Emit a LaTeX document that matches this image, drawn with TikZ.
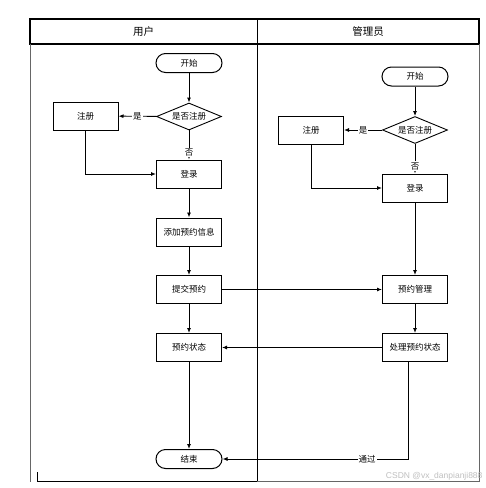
\documentclass[tikz,border=0pt]{standalone}
\usepackage{fontspec}
\setmainfont{Noto Sans CJK SC}
\newfontfamily\wmfont{Liberation Sans}
\usepackage{xcolor}
\usetikzlibrary{arrows.meta,positioning,calc,shapes.geometric}

\tikzset{
  proc/.style={draw, line width=1pt, minimum width=65pt, minimum height=28pt, inner sep=0pt},
  term/.style={draw, line width=1pt, rounded corners=9.5pt, minimum width=66pt, minimum height=19pt, inner sep=0pt},
  decide/.style={draw, diamond, aspect=2.3, line width=0.9pt, minimum width=65pt, minimum height=27pt, inner sep=0pt},
  flow/.style={-{Latex[length=5pt,width=4pt]}, line width=0.9pt},
  lbl/.style={fill=white, inner sep=1pt}
}

\begin{document}
\begin{tikzpicture}[x=1pt, y=-1pt, font=\fontsize{8.5}{10}\selectfont]
\useasboundingbox (0,0) rectangle (486,488);
% swimlane frame
\draw[line width=1.1pt] (30,19) rectangle (479,44);
\draw[line width=1pt] (257,19) -- (257,481);
\draw[line width=1pt, black!60] (30,44) -- (30,482);
\draw[line width=1pt, black!60] (479,44) -- (479,481) -- (257,481);
\draw[line width=1pt] (37,472) -- (37,481) -- (257,481);
\node[font=\fontsize{10.5}{12}\selectfont] (huser) at (143.5,31.5) {用户};
\node[font=\fontsize{10.5}{12}\selectfont] (hadmin) at (368,31.5) {管理员};

% user lane
\node[term] (ustart) at (189,63) {开始};
\node[decide] (udec) at (189,116.5) {是否注册};
\node[proc] (ureg) at (85.5,116) {注册};
\node[proc] (ulogin) at (189,174) {登录};
\node[proc] (uadd) at (189,232) {添加预约信息};
\node[proc] (usubmit) at (189,289.5) {提交预约};
\node[proc] (ustatus) at (189,347.5) {预约状态};
\node[term] (uend) at (189,459) {结束};

% admin lane
\node[term] (astart) at (415,76.5) {开始};
\node[decide] (adec) at (415,130) {是否注册};
\node[proc] (areg) at (311,130) {注册};
\node[proc] (alogin) at (415,188) {登录};
\node[proc] (amanage) at (415,289.5) {预约管理};
\node[proc] (aproc) at (415,347.5) {处理预约状态};
\coordinate (aout) at ($(aproc.south)+(-7,0)$);

% user flow
\draw[flow] (ustart) -- (udec);
\draw[flow] (udec) -- node[lbl] {是} (ureg);
\draw[flow] (udec) -- node[lbl, pos=0.75] {否} (ulogin);
\draw[flow] (ureg) |- (ulogin);
\draw[flow] (ulogin) -- (uadd);
\draw[flow] (uadd) -- (usubmit);
\draw[flow] (usubmit) -- (ustatus);
\draw[flow] (ustatus) -- (uend);

% admin flow
\draw[flow] (astart) -- (adec);
\draw[flow] (adec) -- node[lbl] {是} (areg);
\draw[flow] (adec) -- node[lbl, pos=0.75] {否} (alogin);
\draw[flow] (areg) |- (alogin);
\draw[flow] (alogin) -- (amanage);
\draw[flow] (amanage) -- (aproc);

% between lanes
\draw[flow] (usubmit) -- (amanage);
\draw[flow] (aproc) -- (ustatus);
\draw[flow] (aout) |- node[lbl, pos=0.61] {通过} (uend);

\node[text=black!25, font=\wmfont\fontsize{8.5}{10}\selectfont, anchor=east] (wmark) at (486,476) {CSDN @vx\_danpianji888};
\end{tikzpicture}
\end{document}
